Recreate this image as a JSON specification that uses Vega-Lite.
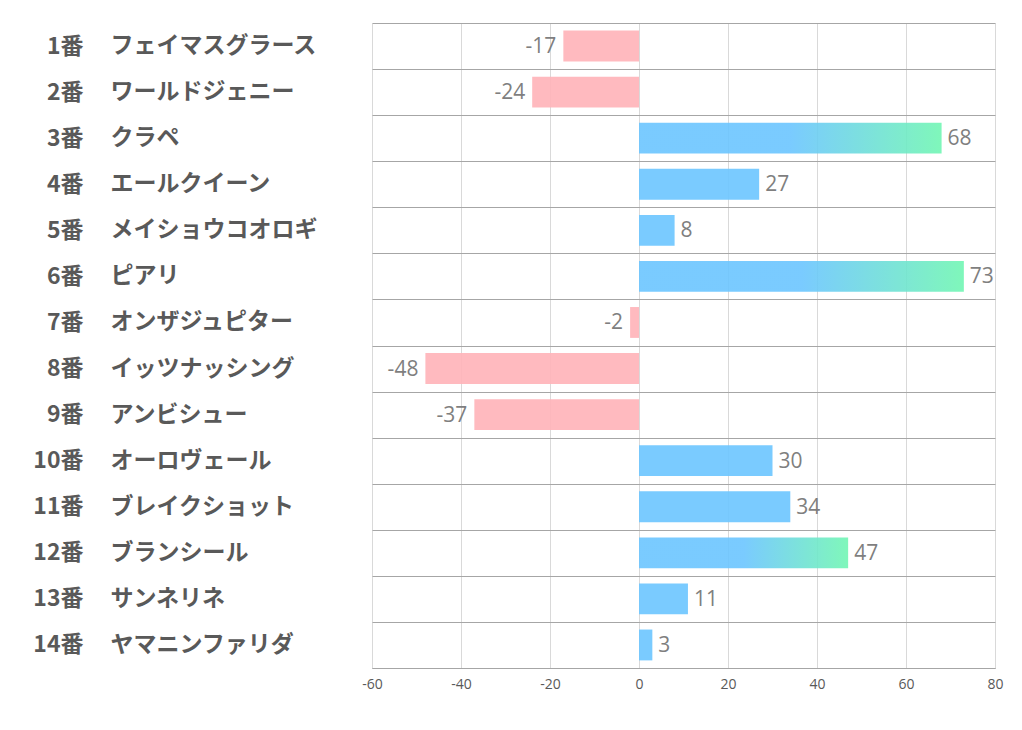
{
  "$schema": "https://vega.github.io/schema/vega-lite/v6.json",
  "width": 623,
  "height": 645,
  "autosize": "none",
  "padding": {"left": 372, "top": 23, "right": 27, "bottom": 62},
  "background": "white",
  "config": {"view": {"stroke": null}},
  "data": {"values": [
    {"no": "1番", "name": "フェイマスグラース", "value": -17},
    {"no": "2番", "name": "ワールドジェニー", "value": -24},
    {"no": "3番", "name": "クラペ", "value": 68},
    {"no": "4番", "name": "エールクイーン", "value": 27},
    {"no": "5番", "name": "メイショウコオロギ", "value": 8},
    {"no": "6番", "name": "ピアリ", "value": 73},
    {"no": "7番", "name": "オンザジュピター", "value": -2},
    {"no": "8番", "name": "イッツナッシング", "value": -48},
    {"no": "9番", "name": "アンビシュー", "value": -37},
    {"no": "10番", "name": "オーロヴェール", "value": 30},
    {"no": "11番", "name": "ブレイクショット", "value": 34},
    {"no": "12番", "name": "ブランシール", "value": 47},
    {"no": "13番", "name": "サンネリネ", "value": 11},
    {"no": "14番", "name": "ヤマニンファリダ", "value": 3}
  ]},
  "layer": [
    {
      "mark": {"type": "bar", "opacity": 0.9},
      "encoding": {
        "y": {
          "field": "name", "type": "nominal", "sort": null,
          "scale": {"paddingInner": 0.33, "paddingOuter": 0.165},
          "axis": {"title": null, "orient": "left", "grid": false, "domain": false, "ticks": false, "tickSize": 0,
                   "labelAlign": "left", "labelPadding": 262, "labelFontSize": 23, "labelFontWeight": "bold",
                   "labelLimit": 400, "labelColor": "#595959", "labelFont": "Noto Sans CJK JP"}
        },
        "x": {
          "field": "value", "type": "quantitative",
          "scale": {"domain": [-60, 80], "nice": false, "zero": false},
          "axis": {"title": null, "values": [-60, -40, -20, 0, 20, 40, 60, 80], "grid": true, "gridColor": "#d9d9d9",
                   "domainColor": "#a6a6a6", "ticks": false, "tickSize": 0, "labelFontSize": 14, "labelColor": "#595959",
                   "labelPadding": 9, "labelFlush": false, "labelFont": "Open Sans", "labelExpr": "datum.value + ''"}
        },
        "color": {
          "condition": [
            {"test": "datum.value < 0", "value": "#FFB3B8"},
            {"test": "datum.value > 40", "value": {"gradient": "linear", "x1": 0, "y1": 0, "x2": 1, "y2": 0,
              "stops": [{"offset": 0, "color": "#6BC5FF"}, {"offset": 0.5, "color": "#6BC5FF"}, {"offset": 1, "color": "#71F6B3"}]}}
          ],
          "value": "#6BC5FF"
        }
      }
    },
    {
      "mark": {"type": "text", "fontSize": 21, "color": "#7f7f7f", "font": "Open Sans", "dy": 1,
               "align": {"expr": "datum.value < 0 ? 'right' : 'left'"},
               "dx": {"expr": "datum.value < 0 ? -7 : 6"}},
      "encoding": {
        "y": {
          "field": "no", "type": "nominal", "sort": null,
          "scale": {"paddingInner": 0, "paddingOuter": 0},
          "axis": {"title": null, "orient": "left", "grid": true, "tickBand": "extent", "gridColor": "#a6a6a6",
                   "domain": false, "ticks": false, "tickSize": 0,
                   "labelAlign": "right", "labelPadding": 289, "labelFontSize": 23, "labelFontWeight": "bold",
                   "labelColor": "#595959", "labelFont": "Noto Sans CJK JP"}
        },
        "x": {"field": "value", "type": "quantitative"},
        "text": {"field": "value", "type": "nominal"}
      }
    }
  ],
  "resolve": {"scale": {"y": "independent"}}
}
